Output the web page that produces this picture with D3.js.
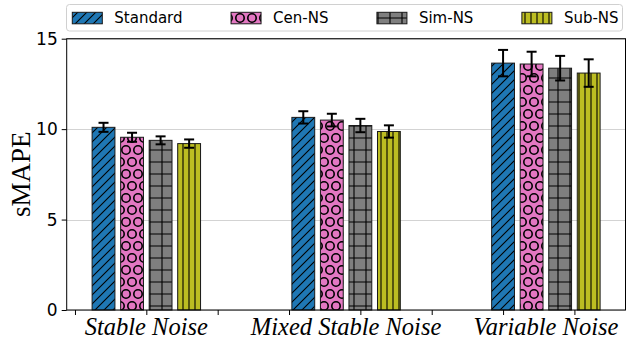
<!DOCTYPE html>
<html>
<head>
<meta charset="utf-8">
<script src="https://cdn.jsdelivr.net/npm/d3@7"></script>
<style>
  html, body { margin: 0; padding: 0; background: #fff; }
  svg { display: block; }
</style>
</head>
<body>
<svg id="chart" width="626" height="339"></svg>
<script>
// Noise settings along the x axis
const categories = ["Stable Noise", "Mixed Stable Noise", "Variable Noise"];
// Training variants, one bar each per noise setting
const seriesNames = ["Standard", "Cen-NS", "Sim-NS", "Sub-NS"];
// Mean sMAPE per variant and setting
const standardValues = [10.1, 10.65, 13.65];
const cenNSValues    = [9.55, 10.5, 13.6];
const simNSValues    = [9.38, 10.2, 13.37];
const subNSValues    = [9.2, 9.87, 13.1];
// Error-bar half widths
const standardErr = [0.25, 0.34, 0.73];
const cenNSErr    = [0.25, 0.35, 0.68];
const simNSErr    = [0.22, 0.37, 0.68];
const subNSErr    = [0.23, 0.34, 0.76];
// Y tick labels
const yTicks = [0, 5, 10, 15];

const seriesValues = [standardValues, cenNSValues, simNSValues, subNSValues];
const seriesErrors = [standardErr, cenNSErr, simNSErr, subNSErr];
const fills = ["#1f77b4", "#e377c2", "#7f7f7f", "#bcbd22"];
const hatchIds = ["hatch-diag", "hatch-circ", "hatch-plus", "hatch-vert"];

const svg = d3.select("#chart");
const plot = { left: 66.7, right: 625.5, top: 38.7, bottom: 310 };

const groupStep = 1.4, barWidth = 0.16, barStep = 0.2;
const x = d3.scaleLinear().domain([-0.558, 3.358]).range([plot.left, plot.right]);
const y = d3.scaleLinear().domain([0, 15]).range([plot.bottom, plot.top]);

// Hatch patterns, anchored to the page origin
const defs = svg.append("defs");
const hatchStroke = "#000";
const hw = 1.1;
{
  // '//' : diagonal lines
  const s = 9;
  const p = defs.append("pattern").attr("id", "hatch-diag")
    .attr("patternUnits", "userSpaceOnUse").attr("width", s).attr("height", s);
  p.append("path").attr("d", `M-1,${s + 1} L${s + 1},-1 M-${s / 2},${s / 2} L${s / 2},-${s / 2} M${s / 2},${s * 1.5} L${s * 1.5},${s / 2}`)
    .attr("stroke", hatchStroke).attr("stroke-width", hw).attr("fill", "none");
}
{
  // 'O' : large circles on a staggered 12px grid
  const p = defs.append("pattern").attr("id", "hatch-circ")
    .attr("patternUnits", "userSpaceOnUse").attr("width", 12).attr("height", 24);
  const r = 4.2;
  [[6, 6], [0, 18], [12, 18]].forEach(([cx, cy]) => {
    p.append("circle").attr("cx", cx).attr("cy", cy).attr("r", r)
      .attr("stroke", hatchStroke).attr("stroke-width", 1.6).attr("fill", "none");
  });
}
{
  // '+' : grid lines every 12px
  const p = defs.append("pattern").attr("id", "hatch-plus")
    .attr("patternUnits", "userSpaceOnUse").attr("width", 12).attr("height", 12);
  p.append("path").attr("d", "M0,6 H12 M6,0 V12")
    .attr("stroke", hatchStroke).attr("stroke-width", hw).attr("fill", "none");
}
{
  // '||' : vertical lines every 6px
  const p = defs.append("pattern").attr("id", "hatch-vert")
    .attr("patternUnits", "userSpaceOnUse").attr("width", 6).attr("height", 6);
  p.append("path").attr("d", "M3,0 V6")
    .attr("stroke", hatchStroke).attr("stroke-width", hw).attr("fill", "none");
}

// Horizontal grid lines
svg.append("g").selectAll("line").data(yTicks).join("line")
  .attr("x1", plot.left).attr("x2", plot.right)
  .attr("y1", d => Math.round(y(d)) + 0.5).attr("y2", d => Math.round(y(d)) + 0.5)
  .attr("stroke", "#d3d3d3").attr("stroke-width", 1.2);

// Bars
const bars = [];
seriesValues.forEach((vals, s) => {
  vals.forEach((v, g) => {
    bars.push({ s, g, v, e: seriesErrors[s][g],
      cx: g * groupStep + (s - 1.5) * barStep });
  });
});

const barG = svg.append("g");
barG.selectAll("rect.fill").data(bars).join("rect")
  .attr("class", "fill")
  .attr("x", d => x(d.cx - barWidth / 2)).attr("width", d => x(barWidth) - x(0))
  .attr("y", d => y(d.v)).attr("height", d => y(0) - y(d.v))
  .attr("fill", d => fills[d.s]);
barG.selectAll("rect.hatch").data(bars).join("rect")
  .attr("class", "hatch")
  .attr("x", d => x(d.cx - barWidth / 2)).attr("width", d => x(barWidth) - x(0))
  .attr("y", d => y(d.v)).attr("height", d => y(0) - y(d.v))
  .attr("fill", d => `url(#${hatchIds[d.s]})`)
  .attr("stroke", "#1a1a1a").attr("stroke-width", 1);

// Error bars
const errG = svg.append("g").attr("stroke", "#000").attr("stroke-width", 2);
errG.selectAll("line.v").data(bars).join("line")
  .attr("x1", d => x(d.cx)).attr("x2", d => x(d.cx))
  .attr("y1", d => y(d.v - d.e)).attr("y2", d => y(d.v + d.e));
errG.selectAll("line.lo").data(bars).join("line")
  .attr("x1", d => x(d.cx) - 5).attr("x2", d => x(d.cx) + 5)
  .attr("y1", d => y(d.v - d.e)).attr("y2", d => y(d.v - d.e));
errG.selectAll("line.hi").data(bars).join("line")
  .attr("x1", d => x(d.cx) - 5).attr("x2", d => x(d.cx) + 5)
  .attr("y1", d => y(d.v + d.e)).attr("y2", d => y(d.v + d.e));

// Frame
svg.append("rect")
  .attr("x", plot.left).attr("y", plot.top)
  .attr("width", plot.right - plot.left).attr("height", plot.bottom - plot.top)
  .attr("fill", "none").attr("stroke", "#000").attr("stroke-width", 1);

// Y axis
const yAxis = svg.append("g").attr("transform", `translate(${plot.left},0)`)
  .call(d3.axisLeft(y).tickValues(yTicks).tickSize(5).tickPadding(4));
yAxis.select(".domain").remove();
yAxis.selectAll("text").attr("font-family", "DejaVu Sans").attr("font-size", 17).attr("fill", "#000");

// X axis ticks (unlabelled)
const xAxis = svg.append("g").attr("transform", `translate(0,${plot.bottom})`)
  .call(d3.axisBottom(x).tickValues(d3.range(-0.5, 3.01, 0.5)).tickSize(5).tickFormat(""));
xAxis.select(".domain").remove();

// Category labels
svg.append("g").selectAll("text").data(categories).join("text")
  .attr("x", (d, i) => x(i * groupStep)).attr("y", 335)
  .attr("text-anchor", "middle")
  .attr("font-family", "Liberation Serif").attr("font-style", "italic")
  .attr("font-size", 24.5).text(d => d);

// Y label
svg.append("text")
  .attr("transform", `translate(30,${(plot.top + plot.bottom) / 2}) rotate(-90)`)
  .attr("text-anchor", "middle")
  .attr("font-family", "Liberation Serif").attr("font-size", 27).text("sMAPE");

// Legend
const leg = svg.append("g");
leg.append("rect").attr("x", 66.5).attr("y", 4.5).attr("width", 556).attr("height", 26.5)
  .attr("rx", 3).attr("fill", "#fff").attr("stroke", "#d0d0d0").attr("stroke-width", 1);
let lx = 72.3;
seriesNames.forEach((name, s) => {
  const item = leg.append("g");
  item.append("rect").attr("x", lx).attr("y", 12.3).attr("width", 30).attr("height", 11.5)
    .attr("fill", fills[s]);
  item.append("rect").attr("x", lx).attr("y", 12.3).attr("width", 30).attr("height", 11.5)
    .attr("fill", `url(#${hatchIds[s]})`).attr("stroke", "#1a1a1a").attr("stroke-width", 1);
  const t = item.append("text").attr("x", lx + 42).attr("y", 22.8)
    .attr("font-family", "DejaVu Sans").attr("font-size", 15).text(name);
  lx += 42 + t.node().getComputedTextLength() + 48.5;
});
</script>
</body>
</html>
